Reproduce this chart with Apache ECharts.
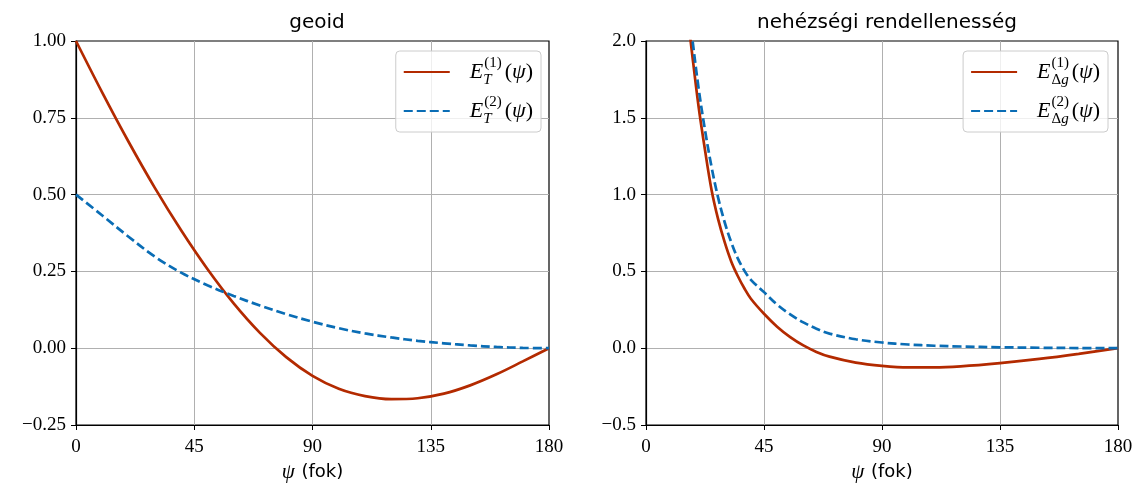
<!DOCTYPE html>
<html><head><meta charset="utf-8">
<script src="https://cdn.jsdelivr.net/npm/echarts@6/dist/echarts.min.js"></script>
<style>html,body{margin:0;padding:0;background:#fff}#c{width:1136px;height:483px}</style>
</head><body><div id="c"></div>
<script>
// ---- data ----
const titles = ['geoid', 'nehézségi rendellenesség'];
const xTicks = [0, 45, 90, 135, 180];
const yTicksLeft = [-0.25, 0, 0.25, 0.5, 0.75, 1.0];
const yTicksRight = [-0.5, 0, 0.5, 1.0, 1.5, 2.0];

const psiGeoid = [0,10,20,30,40,50,60,70,80,90,100,110,120,130,140,150,160,170,180];
const eT1 = [1.000,0.832,0.672,0.522,0.384,0.258,0.146,0.050,-0.029,-0.090,-0.132,-0.156,-0.166,-0.163,-0.148,-0.121,-0.085,-0.043,0];
const eT2 = [0.500,0.432,0.363,0.298,0.246,0.205,0.170,0.139,0.111,0.086,0.065,0.048,0.035,0.024,0.016,0.009,0.004,0.001,0];

const psiGrav = [15,17.5,20,22.5,25,27.5,30,32.5,35,37.5,40,45,50,55,60,65,70,80,90,100,110,120,135,150,165,180];
const eDg1 = [2.30,1.93,1.58,1.29,1.03,0.84,0.69,0.565,0.47,0.39,0.322,0.224,0.140,0.072,0.018,-0.024,-0.055,-0.094,-0.115,-0.125,-0.125,-0.118,-0.097,-0.070,-0.037,0];
const eDg2 = [2.42,2.04,1.70,1.42,1.18,0.98,0.82,0.69,0.585,0.505,0.445,0.365,0.284,0.220,0.168,0.127,0.095,0.058,0.037,0.024,0.016,0.011,0.006,0.003,0.001,0];

const seriesNames = ['ET1', 'ET2', 'EDg1', 'EDg2'];
// ----------------------------------------------

const RED = '#b32a00', BLUE = '#0a6db5';
const SERIF = "'Liberation Serif', 'DejaVu Serif', serif";
const SANS = "'DejaVu Sans', sans-serif";
const pairs = (xs, ys) => xs.map((x, i) => [x, ys[i]]);
const minus = s => s.replace('-', '\u2212');

const rich = {
  E: {fontFamily: SERIF, fontStyle: 'italic', fontSize: 22, lineHeight: 32, verticalAlign: 'middle', color: '#000'},
  sb: {fontFamily: SERIF, fontStyle: 'italic', fontSize: 15, lineHeight: 13, verticalAlign: 'bottom', color: '#000', width: 0},
  sbu: {fontFamily: SERIF, fontSize: 15, lineHeight: 13, verticalAlign: 'bottom', color: '#000'},
  sbi: {fontFamily: SERIF, fontStyle: 'italic', fontSize: 15, lineHeight: 13, verticalAlign: 'bottom', color: '#000'},
  sp: {fontFamily: SERIF, fontSize: 15, lineHeight: 12, verticalAlign: 'top', color: '#000', padding: [0, 0, 0, 1]},
  sp0: {fontFamily: SERIF, fontSize: 15, lineHeight: 12, verticalAlign: 'top', color: '#000', width: 0, padding: [0, 0, 0, 1]},
  p: {fontFamily: SERIF, fontSize: 22, lineHeight: 32, verticalAlign: 'middle', color: '#000', padding: [0, 0, 0, 3]},
  p2: {fontFamily: SERIF, fontSize: 22, lineHeight: 32, verticalAlign: 'middle', color: '#000'},
  psi: {fontFamily: SERIF, fontStyle: 'italic', fontSize: 22, lineHeight: 32, verticalAlign: 'middle', color: '#000'}
};
const labels = {
  ET1: '{E|E}{sb|T}{sp|(1)}{p|(}{psi|ψ}{p2|)}',
  ET2: '{E|E}{sb|T}{sp|(2)}{p|(}{psi|ψ}{p2|)}',
  EDg1: '{E|E}{sp0|(1)}{sbu|Δ}{sbi|g}{p|(}{psi|ψ}{p2|)}',
  EDg2: '{E|E}{sp0|(2)}{sbu|Δ}{sbi|g}{p|(}{psi|ψ}{p2|)}'
};

const grids = [
  {left: 76, top: 41, width: 473, height: 384, show: true, borderColor: '#000', borderWidth: 1.2, backgroundColor: 'transparent', containLabel: false, outerBoundsMode: 'none'},
  {left: 646, top: 41, width: 472, height: 384, show: true, borderColor: '#000', borderWidth: 1.2, backgroundColor: 'transparent', containLabel: false, outerBoundsMode: 'none'}
];

function xAxis(g) {
  return {
    type: 'value', gridIndex: g, min: xTicks[0], max: xTicks[xTicks.length - 1], interval: 45,
    axisLine: {show: true, onZero: false, lineStyle: {color: '#000', width: 1.2}},
    axisTick: {show: true, length: 5, lineStyle: {color: '#000', width: 1}},
    axisLabel: {color: '#000', fontFamily: SERIF, fontSize: 19, margin: 13},
    splitLine: {show: true, showMinLine: false, showMaxLine: false, lineStyle: {color: '#b0b0b0', width: 1}},
    name: '{psi|ψ}  {t|(fok)}', nameLocation: 'middle', nameGap: 36,
    nameTextStyle: {rich: {
      psi: {fontFamily: SERIF, fontStyle: 'italic', fontSize: 21, color: '#000'},
      t: {fontFamily: SANS, fontSize: 18, color: '#000'}
    }}
  };
}
function yAxis(g, ticks, dec) {
  return {
    type: 'value', gridIndex: g, min: ticks[0], max: ticks[ticks.length - 1], interval: ticks[1] - ticks[0],
    axisLine: {show: true, onZero: false, lineStyle: {color: '#000', width: 1.2}},
    axisTick: {show: true, length: 5, lineStyle: {color: '#000', width: 1}},
    axisLabel: {color: '#000', fontFamily: SERIF, fontSize: 19, margin: 10, formatter: v => minus(v.toFixed(dec))},
    splitLine: {show: true, showMinLine: false, showMaxLine: false, lineStyle: {color: '#b0b0b0', width: 1}}
  };
}

function line(name, xi, data, color, dashed) {
  return {
    name, type: 'line', xAxisIndex: xi, yAxisIndex: xi, data, symbol: 'none', smooth: 0.35,
    clip: true, silent: true,
    lineStyle: {color, width: 2.7, type: dashed ? [9, 4] : 'solid', cap: 'butt'},
    itemStyle: {color}
  };
}

function legend(names, right) {
  return {
    data: names, orient: 'vertical', right, top: 51, itemWidth: 46, itemHeight: 14, itemGap: 7,
    padding: [5, 8, 5, 7], backgroundColor: 'rgba(255,255,255,0.8)', borderColor: '#cccccc', borderWidth: 1, borderRadius: 4,
    itemStyle: {opacity: 0},
    formatter: n => labels[n], textStyle: {rich, padding: [0, 0, 0, 15]}, selectedMode: false
  };
}

const chart = echarts.init(document.getElementById('c'), null, {renderer: 'canvas'});
chart.setOption({
  animation: false,
  backgroundColor: '#fff',
  title: [
    {text: titles[0], left: 312, top: 8, textAlign: 'center', textStyle: {fontFamily: SANS, fontWeight: 'normal', fontSize: 20, color: '#000'}},
    {text: titles[1], left: 882, top: 8, textAlign: 'center', textStyle: {fontFamily: SANS, fontWeight: 'normal', fontSize: 20, color: '#000'}}
  ],
  grid: grids,
  xAxis: [xAxis(0), xAxis(1)],
  yAxis: [yAxis(0, yTicksLeft, 2), yAxis(1, yTicksRight, 1)],
  legend: [legend([seriesNames[0], seriesNames[1]], 595), legend([seriesNames[2], seriesNames[3]], 28)],
  series: [
    line(seriesNames[0], 0, pairs(psiGeoid, eT1), RED, false),
    line(seriesNames[1], 0, pairs(psiGeoid, eT2), BLUE, true),
    line(seriesNames[2], 1, pairs(psiGrav, eDg1), RED, false),
    line(seriesNames[3], 1, pairs(psiGrav, eDg2), BLUE, true)
  ]
});
</script></body></html>
